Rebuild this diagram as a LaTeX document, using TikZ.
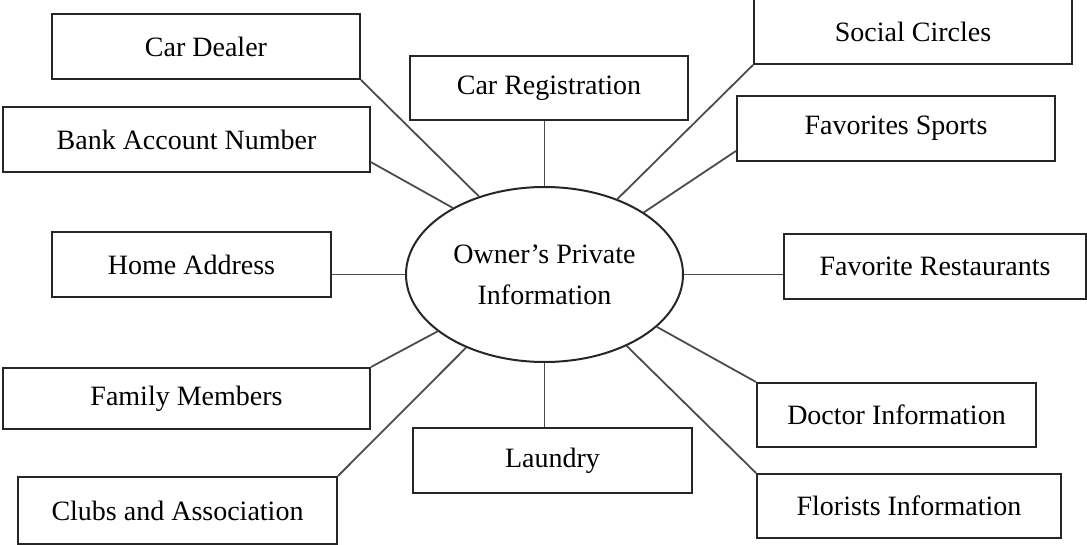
\documentclass[tikz,border=0pt]{standalone}
\usepackage{fontspec}
\setmainfont{Liberation Serif}
\usetikzlibrary{shapes.geometric}

\begin{document}
\begin{tikzpicture}[x=1pt, y=-1pt,
    infobox/.style={draw=black!85, line width=2pt, rectangle, inner sep=0pt,
      minimum height=65pt, font=\fontsize{28}{34}\selectfont},
    link/.style={draw=black!70, line width=1.8pt}]
  \useasboundingbox (0,0) rectangle (1087,545);

  % Central ellipse
  \node[draw=black!85, line width=2pt, ellipse, inner sep=0pt,
    minimum width=277pt, minimum height=175pt, align=center,
    font=\fontsize{28}{41}\selectfont] (own) at (544.5,274.5)
    {Owner’s Private\\Information};

  % Left boxes
  \node[infobox, minimum width=308pt] (cd) at (206,46.5) {Car Dealer};
  \node[infobox, minimum width=367pt] (bank) at (186.5,139.5) {Bank Account Number};
  \node[infobox, minimum width=279pt] (home) at (191.5,264.5) {Home Address};
  \node[infobox, minimum width=367pt, minimum height=61pt] (fam) at (186.5,398.5) {Family Members};
  \node[infobox, minimum width=319pt, minimum height=67pt] (club) at (177.5,510.5) {Clubs and Association};

  % Middle boxes
  \node[infobox, minimum width=278pt, minimum height=64pt] (reg) at (549,88) {Car Registration};
  \node[infobox, minimum width=279pt] (laun) at (552.5,460.5) {Laundry};

  % Right boxes
  \node[infobox, minimum width=318pt] (soc) at (913,31.5) {Social Circles};
  \node[infobox, minimum width=318pt] (sport) at (896,128.5) {Favorites Sports};
  \node[infobox, minimum width=302pt] (rest) at (935,266.5) {Favorite Restaurants};
  \node[infobox, minimum width=279pt, minimum height=64pt] (doc) at (896.5,415) {Doctor Information};
  \node[infobox, minimum width=304pt, minimum height=64pt] (flor) at (909,506) {Florists Information};

  % Connectors to the ellipse
  \foreach \b/\e in {cd.south east/130, bank.-7/144, soc.south west/46,
      sport.188/32, fam.north east/208, club.north east/223.5,
      doc.north west/335, flor.north west/319} {
    \draw[link] (\b) -- (own.\e);
  }
  \draw[link] (own.north) -- (own.north |- reg.south);
  \draw[link] (own.south) -- (own.south |- laun.north);
  \draw[link] (own.west) -- (own.west -| home.east);
  \draw[link] (own.east) -- (own.east -| rest.west);
\end{tikzpicture}
\end{document}
